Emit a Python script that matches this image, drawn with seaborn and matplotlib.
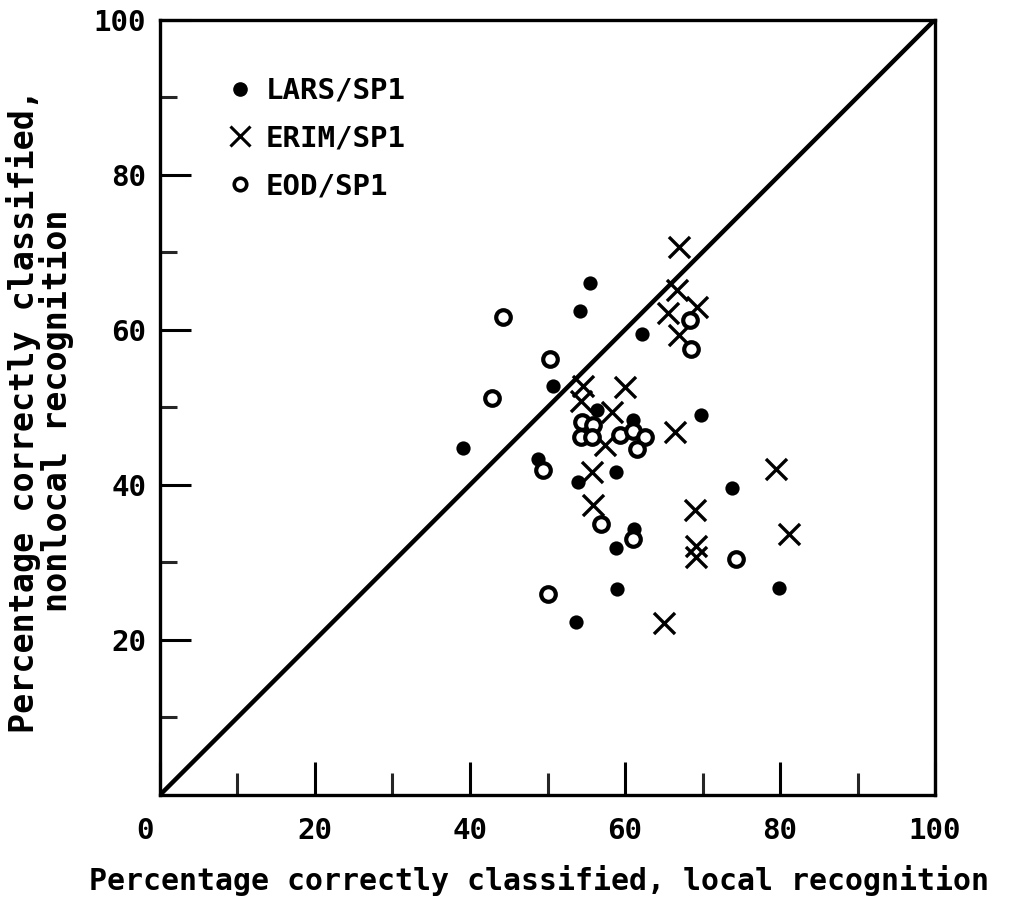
import matplotlib
matplotlib.use("Agg")
import matplotlib.pyplot as plt
import matplotlib.transforms as mtransforms
import seaborn as sns
import pandas as pd
from matplotlib.lines import Line2D

# ---- data ----
lars_x = [39.1, 55.5, 54.2, 62.2, 50.7, 69.8, 48.8, 53.9, 58.8, 73.8, 61.2, 58.8, 59.0, 79.9, 53.7, 56.4, 61.0]
lars_y = [44.7, 66.0, 62.4, 59.4, 52.7, 49.0, 43.3, 40.3, 41.6, 39.6, 34.3, 31.8, 26.5, 26.7, 22.3, 49.6, 48.3]

erim_x = [66.9, 66.7, 65.5, 69.3, 67.0, 60.0, 54.6, 54.3, 58.3, 57.4, 66.5, 55.7, 55.9, 69.0, 79.5, 81.2, 69.2, 69.2, 65.0]
erim_y = [70.6, 65.1, 62.2, 62.9, 59.3, 52.6, 52.8, 50.8, 49.4, 45.1, 46.8, 41.6, 37.4, 36.7, 42.0, 33.6, 32.1, 30.7, 22.2]

eod_x = [44.3, 50.3, 42.8, 68.4, 68.5, 49.4, 61.0, 56.9, 74.3, 50.0, 54.5, 55.9, 54.3, 55.7, 59.4, 61.0, 62.6, 61.5]
eod_y = [61.7, 56.2, 51.2, 61.2, 57.5, 41.9, 33.0, 34.9, 30.4, 25.9, 48.1, 47.7, 46.1, 46.1, 46.4, 46.9, 46.1, 44.6]

series_names = ["LARS/SP1", "ERIM/SP1", "EOD/SP1"]
diag = [0, 100]
x_ticklabels = ["0", "20", "40", "60", "80", "100"]
y_ticklabels = ["20", "40", "60", "80", "100"]

sns.set_theme(style="white")
plt.rcParams['font.family'] = ['DejaVu Sans Mono', 'DejaVu Sans']
plt.rcParams['font.weight'] = 'bold'
plt.rcParams['text.color'] = 'black'
plt.rcParams['axes.labelcolor'] = 'black'

fig = plt.figure(figsize=(10.28, 9.07), dpi=100)
ax = fig.add_axes([0.1556, 0.1235, 0.754, 0.855])

df_l = pd.DataFrame({"x": lars_x, "y": lars_y})
df_e = pd.DataFrame({"x": erim_x, "y": erim_y})
df_o = pd.DataFrame({"x": eod_x, "y": eod_y})

sns.lineplot(x=diag, y=diag, ax=ax, color="black", linewidth=3.2, zorder=2)
sns.scatterplot(data=df_l, x="x", y="y", ax=ax, marker="o", s=105, color="black",
                edgecolor="black", linewidth=0, zorder=3)
sns.scatterplot(data=df_e, x="x", y="y", ax=ax, marker="x", s=230, color="black",
                linewidth=2.4, zorder=3)
sns.scatterplot(data=df_o, x="x", y="y", ax=ax, marker="o", s=110, facecolor="white",
                edgecolor="black", linewidth=3.0, zorder=4)

ax.set_xlim(0, 100)
ax.set_ylim(0, 100)

ax.set_xticks(range(0, 101, 20))
ax.set_xticklabels(x_ticklabels)
ax.set_xticks(range(10, 100, 20), minor=True)
ax.set_yticks(range(20, 101, 20))
ax.set_yticklabels(y_ticklabels)
ax.set_yticks(range(10, 100, 20), minor=True)

ax.tick_params(axis="x", which="major", direction="in", length=24, width=2.2,
               labelsize=21, colors="black", bottom=True, pad=16)
ax.tick_params(axis="x", which="minor", direction="in", length=16, width=2.2, bottom=True)
ax.tick_params(axis="y", which="major", direction="in", length=22, width=2.2,
               labelsize=21, colors="black", left=True, pad=10)
ax.tick_params(axis="y", which="minor", direction="in", length=12, width=2.2, left=True)

# the "0" label sits left of the origin in the reference
lbl0 = ax.get_xticklabels()[0]
lbl0.set_transform(lbl0.get_transform() +
                   mtransforms.ScaledTranslation(-0.15, 0, fig.dpi_scale_trans))

for sp in ax.spines.values():
    sp.set_visible(True)
    sp.set_color("black")
    sp.set_linewidth(2.4)

ax.set_xlabel("Percentage correctly classified, local recognition", fontsize=21.5,
              labelpad=14, fontweight="bold")
ax.xaxis.label.set_x(0.489)
ax.set_ylabel("Percentage correctly classified,\nnonlocal recognition", fontsize=24,
              labelpad=14, linespacing=0.92, fontweight="bold")
ax.yaxis.label.set_y(0.495)

handles = [
    Line2D([], [], marker="o", linestyle="none", color="black", markersize=9.5),
    Line2D([], [], marker="x", linestyle="none", color="black", markersize=14, markeredgewidth=2.2),
    Line2D([], [], marker="o", linestyle="none", markerfacecolor="white",
           markeredgecolor="black", markersize=9, markeredgewidth=2.6),
]
ax.legend(handles, series_names, loc="upper left", bbox_to_anchor=(0.05, 0.96),
          frameon=False, prop={"size": 21, "weight": "bold"}, handletextpad=0.4,
          labelspacing=0.68, handlelength=1.0)

fig.savefig("out.png", dpi=100)
